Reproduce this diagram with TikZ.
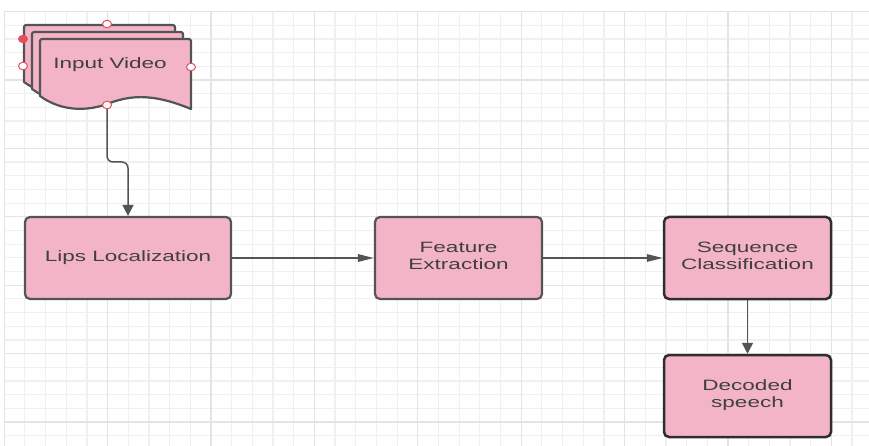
\documentclass[tikz,border=0pt]{standalone}
\usepackage{fontspec}
\setmainfont{Liberation Sans}
\usepackage{graphicx}
\usetikzlibrary{arrows.meta}
\definecolor{pinkfill}{RGB}{244,180,199}
\definecolor{boxline}{RGB}{84,84,84}
\definecolor{boxdark}{RGB}{46,46,46}
\definecolor{txt}{RGB}{64,64,64}
\definecolor{gridminor}{RGB}{240,240,240}
\definecolor{gridmajor}{RGB}{228,228,228}
\definecolor{handle}{RGB}{226,80,96}
\newcommand{\sx}[1]{\scalebox{1.5}[1]{\begin{tabular}{@{}c@{}}#1\end{tabular}}}
\tikzset{
  docshape/.pic={
    \path[fill=pinkfill, draw=boxline, line width=2.2pt, line join=round]
      (40,96) -- (40,44) .. controls (40,39) .. (45,39) -- (186,39)
      .. controls (191,39) .. (191,44) -- (191,109)
      .. controls (150,92) and (128,96) .. (107,104)
      .. controls (88,111) and (62,112) .. (40,96) -- cycle;
  }
}
\begin{document}
\begin{tikzpicture}[x=1pt,y=-1pt,
  stepbox/.style={draw=boxline, line width=2.2pt, fill=pinkfill, rounded corners=5pt,
    inner sep=0pt, text=txt, font=\fontsize{15}{17}\selectfont},
  darkbox/.style={stepbox, draw=boxdark, line width=2.5pt},
  conn/.style={draw=boxline, line width=1.5pt},
  harrow/.style={-{Triangle[length=16pt,width=7.5pt]}},
  varrow/.style={-{Triangle[length=11pt,width=11pt]}},
  handlept/.style={draw=handle, fill=white, line width=1pt},
  lbl/.style={text=txt, font=\fontsize{15}{17}\selectfont, inner sep=0pt}
]
\useasboundingbox (0,0) rectangle (869,446);
\fill[white] (0,0) rectangle (869,446);
\begin{scope}
\clip (0,0) rectangle (869,446);
% minor grid
\foreach \i in {0,...,41} {
  \draw[gridminor, line width=1.2pt] ({4.2+\i*20.68},11.6) -- ({4.2+\i*20.68},446);
}
\foreach \j in {0,...,31} {
  \draw[gridminor, line width=1.2pt] (4.2,{11.6+\j*13.68}) -- (869,{11.6+\j*13.68});
}
% major grid
\foreach \i in {0,...,8} {
  \draw[gridmajor, line width=1.3pt] ({4.2+\i*103.4},11.6) -- ({4.2+\i*103.4},446);
}
\foreach \j in {0,...,6} {
  \draw[gridmajor, line width=1.3pt] (4.2,{11.6+\j*68.4}) -- (869,{11.6+\j*68.4});
}
\end{scope}

% Input Video (stacked documents)
\pic at (-16,-14) {docshape};
\pic at (-8,-7) {docshape};
\pic at (0,0) {docshape};
\node[lbl] (iv) at (110,65.5) {\sx{Input Video}};
\coordinate (ivb) at (107,105);

% process boxes
\node[stepbox, minimum width=206pt, minimum height=82pt] (lips) at (128,258) {\sx{Lips Localization}};
\node[stepbox, minimum width=167pt, minimum height=82pt] (feat) at (458.5,258) {\sx{Feature\\Extraction}};
\node[darkbox, minimum width=167pt, minimum height=82pt] (seq) at (747.5,258) {\sx{Sequence\\Classification}};
\node[darkbox, minimum width=167pt, minimum height=82pt] (dec) at (747.5,396) {\sx{Decoded\\speech}};

% connectors
\draw[conn, varrow, rounded corners=6pt] (ivb) -- (107,162) -- (128,162) -- (lips.north);
\draw[conn, harrow] (lips.east) -- (feat.west);
\draw[conn, harrow] (feat.east) -- (seq.west);
\draw[conn, varrow] (seq.south) -- (dec.north);

% selection handles
\draw[handlept] (107,24) ellipse [x radius=4.5pt, y radius=3.8pt];
\draw[handlept] (23,66) ellipse [x radius=4.5pt, y radius=3.8pt];
\draw[handlept] (191,67) ellipse [x radius=4.5pt, y radius=3.8pt];
\draw[handlept] (107,105) ellipse [x radius=4.5pt, y radius=3.8pt];
\fill[handle] (23,39) ellipse [x radius=5pt, y radius=4.2pt];
\end{tikzpicture}
\end{document}
